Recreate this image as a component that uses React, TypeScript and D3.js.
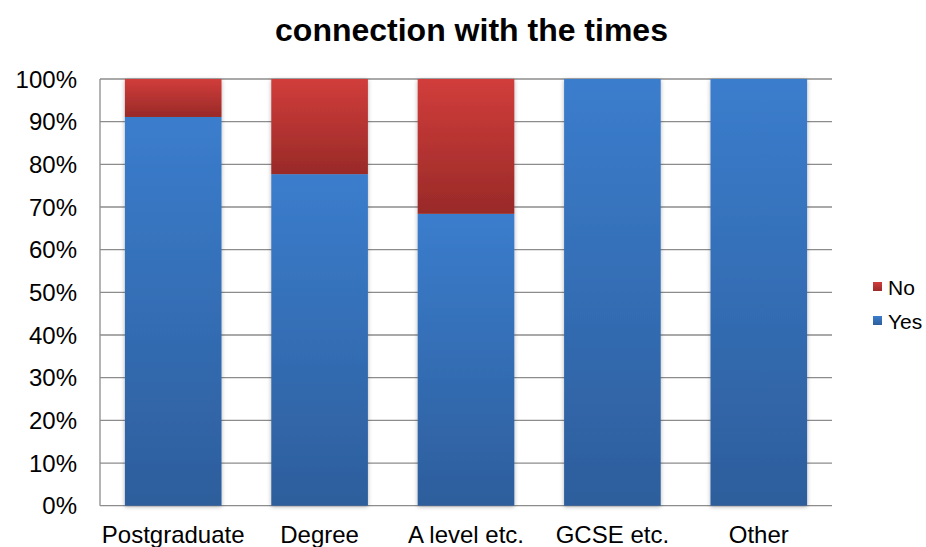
import React from "react";
import * as d3 from "d3";

const categories = ["Postgraduate", "Degree", "A level etc.", "GCSE etc.", "Other"];
const yesValues = [0.911, 0.777, 0.684, 1.0, 1.0];
const noValues = [0.089, 0.223, 0.316, 0, 0];
const yTicks = [0, 0.1, 0.2, 0.3, 0.4, 0.5, 0.6, 0.7, 0.8, 0.9, 1.0];
const seriesNames = ["No", "Yes"];

export default function App() {
  const W = 926, H = 547;
  const left = 100, right = 832, top = 79, bottom = 505.7;
  const x = d3.scaleBand().domain(categories).range([left, right]).paddingInner(0.34).paddingOuter(0.17);
  const y = d3.scaleLinear().domain([0, 1]).range([bottom, top]);
  const fmt = d3.format(".0%");
  const font = "'Liberation Sans', Arial, sans-serif";
  return (
    <svg width={W} height={H} style={{ position: "absolute", left: 0, top: 0 }} fontFamily={font}>
      <defs>
        <linearGradient id="gBlue" x1="0" y1="0" x2="0" y2="1">
          <stop offset="0" stopColor="#3b7dcd" />
          <stop offset="1" stopColor="#2d5e9c" />
        </linearGradient>
        <linearGradient id="gRed" x1="0" y1="0" x2="0" y2="1">
          <stop offset="0" stopColor="#d13d3b" />
          <stop offset="1" stopColor="#992a28" />
        </linearGradient>
        <filter id="shadow" x="-10%" y="-10%" width="120%" height="120%">
          <feDropShadow dx="0" dy="1" stdDeviation="2" floodColor="#000" floodOpacity="0.3" />
        </filter>
      </defs>
      <rect width={W} height={H} fill="#fff" />
      <text x={471.5} y={40.5} textAnchor="middle" fontSize={32} fontWeight="bold">connection with the times</text>
      {yTicks.map((t) => (
        <g key={t}>
          <line x1={left} x2={right} y1={y(t)} y2={y(t)} stroke="#8c8c8c" strokeWidth={1.3} />
          <text x={77} y={y(t) + 8.5} textAnchor="end" fontSize={24}>{fmt(t)}</text>
        </g>
      ))}
      <line x1={left} x2={left} y1={top} y2={bottom} stroke="#8c8c8c" strokeWidth={1.3} />
      {categories.map((c, i) => (
        <g key={c} filter="url(#shadow)">
          <rect x={x(c)} y={y(yesValues[i])} width={x.bandwidth()} height={bottom - y(yesValues[i])} fill="url(#gBlue)" />
          {noValues[i] > 0 && (
            <rect x={x(c)} y={y(yesValues[i] + noValues[i])} width={x.bandwidth()} height={y(yesValues[i]) - y(yesValues[i] + noValues[i])} fill="url(#gRed)" />
          )}
        </g>
      ))}
      {categories.map((c) => (
        <text key={c} x={(x(c) as number) + x.bandwidth() / 2} y={543} textAnchor="middle" fontSize={24}>{c}</text>
      ))}
      {seriesNames.map((s, i) => (
        <g key={s}>
          <rect x={873} y={282 + i * 34} width={9} height={9} fill={s === "No" ? "url(#gRed)" : "url(#gBlue)"} />
          <text x={888} y={294.5 + i * 34} fontSize={21}>{s}</text>
        </g>
      ))}
    </svg>
  );
}
